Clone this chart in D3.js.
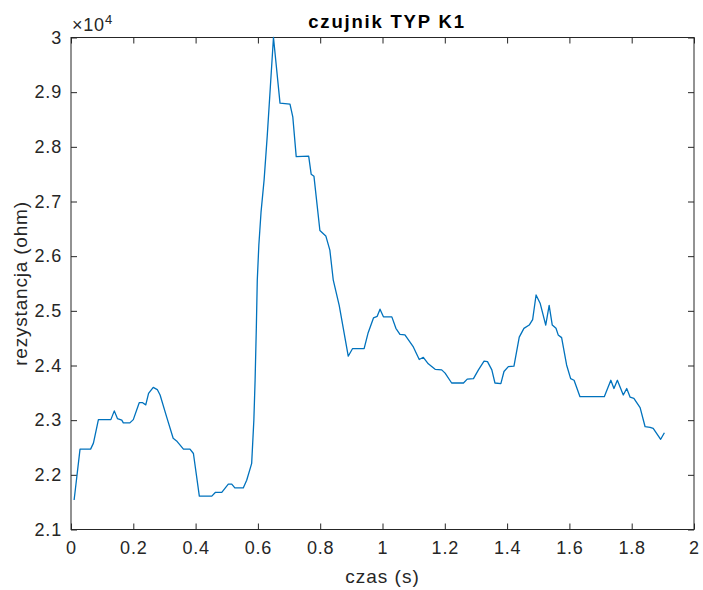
<!DOCTYPE html>
<html><head><meta charset="utf-8">
<script src="https://cdn.jsdelivr.net/npm/d3@7"></script>
<style>body{margin:0;background:#fff}text{font-family:"Liberation Sans",Arial,sans-serif}</style>
</head><body><svg id="c" width="703" height="590"></svg>
<script>
const times = [0.01,0.029,0.063,0.072,0.088,0.128,0.139,0.149,0.163,0.168,0.189,0.200,0.219,0.230,0.240,0.249,0.264,0.277,0.286,0.307,0.328,0.339,0.361,0.382,0.393,0.412,0.452,0.464,0.484,0.505,0.516,0.526,0.553,0.564,0.577,0.580,0.587,0.591,0.595,0.598,0.603,0.610,0.620,0.630,0.640,0.650,0.671,0.703,0.712,0.723,0.763,0.771,0.780,0.799,0.818,0.831,0.842,0.861,0.890,0.904,0.941,0.954,0.971,0.983,0.992,1.003,1.030,1.043,1.056,1.072,1.099,1.118,1.131,1.147,1.169,1.190,1.201,1.222,1.260,1.272,1.292,1.308,1.326,1.337,1.351,1.361,1.380,1.390,1.404,1.422,1.439,1.454,1.471,1.482,1.493,1.506,1.524,1.535,1.545,1.557,1.564,1.575,1.591,1.604,1.615,1.634,1.712,1.733,1.743,1.754,1.773,1.784,1.795,1.807,1.827,1.843,1.859,1.869,1.893,1.905];
const resistance = [21540,22470,22470,22580,23010,23010,23170,23030,23000,22950,22950,23010,23320,23320,23280,23490,23600,23560,23460,23060,22670,22620,22470,22470,22390,21610,21610,21680,21680,21830,21830,21760,21760,21900,22150,22210,23000,23730,24700,25560,26200,26800,27400,28200,29100,30000,28800,28780,28550,27820,27830,27500,27460,26470,26370,26110,25560,25100,24170,24310,24310,24600,24870,24900,25030,24890,24890,24680,24570,24560,24340,24110,24150,24030,23930,23920,23860,23680,23680,23750,23760,23920,24080,24070,23920,23680,23670,23890,23980,23990,24520,24680,24740,24840,25290,25140,24740,25100,24740,24680,24560,24510,24010,23760,23730,23430,23430,23730,23580,23730,23460,23580,23420,23400,23230,22880,22870,22850,22650,22770];
const xTicks = [0,0.2,0.4,0.6,0.8,1,1.2,1.4,1.6,1.8,2];
const yTicks = [21000,22000,23000,24000,25000,26000,27000,28000,29000,30000];
const title = "czujnik TYP K1", xLabel = "czas (s)", yLabel = "rezystancja (ohm)";

const svg = d3.select("#c");
const L=71, R=694, T=37.5, B=529.5;
const x = d3.scaleLinear().domain([0,2]).range([L,R]);
const y = d3.scaleLinear().domain([21000,30000]).range([B,T]);
const ax = "#262626";
const fmtY = v => d3.format("")(+(v/1e4).toFixed(1));

svg.append("rect").attr("x",L).attr("y",T).attr("width",R-L).attr("height",B-T)
  .attr("fill","none").attr("stroke",ax).attr("stroke-width",1);

const tl = 6;
const gB = svg.append("g").attr("transform",`translate(0,${B})`)
  .call(d3.axisBottom(x).tickValues(xTicks).tickSize(-tl).tickPadding(tl+6).tickFormat(d=>d3.format("")(d)));
const gT = svg.append("g").attr("transform",`translate(0,${T})`)
  .call(d3.axisTop(x).tickValues(xTicks).tickSize(-tl).tickFormat(""));
const gL = svg.append("g").attr("transform",`translate(${L},0)`)
  .call(d3.axisLeft(y).tickValues(yTicks).tickSize(-tl).tickPadding(tl+3).tickFormat(fmtY));
const gR = svg.append("g").attr("transform",`translate(${R},0)`)
  .call(d3.axisRight(y).tickValues(yTicks).tickSize(-tl).tickFormat(""));
[gB,gT,gL,gR].forEach(g=>{
  g.select(".domain").remove();
  g.selectAll("line").attr("stroke",ax);
  g.selectAll("text").attr("fill",ax).style("font-size","18px").style("letter-spacing","0.8px")
   .style("font-family","'Liberation Sans',Arial,sans-serif");
});

svg.append("path").datum(times.map((t,i)=>[t,resistance[i]]))
  .attr("fill","none").attr("stroke","#0072BD").attr("stroke-width",1.3).attr("stroke-linejoin","round")
  .attr("d", d3.line().x(d=>x(d[0])).y(d=>y(d[1])));

const ex = svg.append("text").attr("x",L+1).attr("y",31).attr("fill",ax).style("font-size","18px").style("letter-spacing","0.8px");
ex.append("tspan").text("\u00d710");
ex.append("tspan").attr("dy",-7).style("font-size","13px").text("4");

svg.append("text").attr("x",387).attr("y",27.7).attr("text-anchor","middle").attr("fill","#000")
  .style("font-size","18.5px").style("font-weight","bold").style("letter-spacing","1.8px").text(title);
svg.append("text").attr("x",(L+R)/2).attr("y",583).attr("text-anchor","middle").attr("fill",ax)
  .style("font-size","19px").style("letter-spacing","1px").text(xLabel);
svg.append("text").attr("transform",`translate(27,${(T+B)/2}) rotate(-90)`).attr("text-anchor","middle").attr("fill",ax)
  .style("font-size","19px").style("letter-spacing","0.8px").text(yLabel);
</script></body></html>
